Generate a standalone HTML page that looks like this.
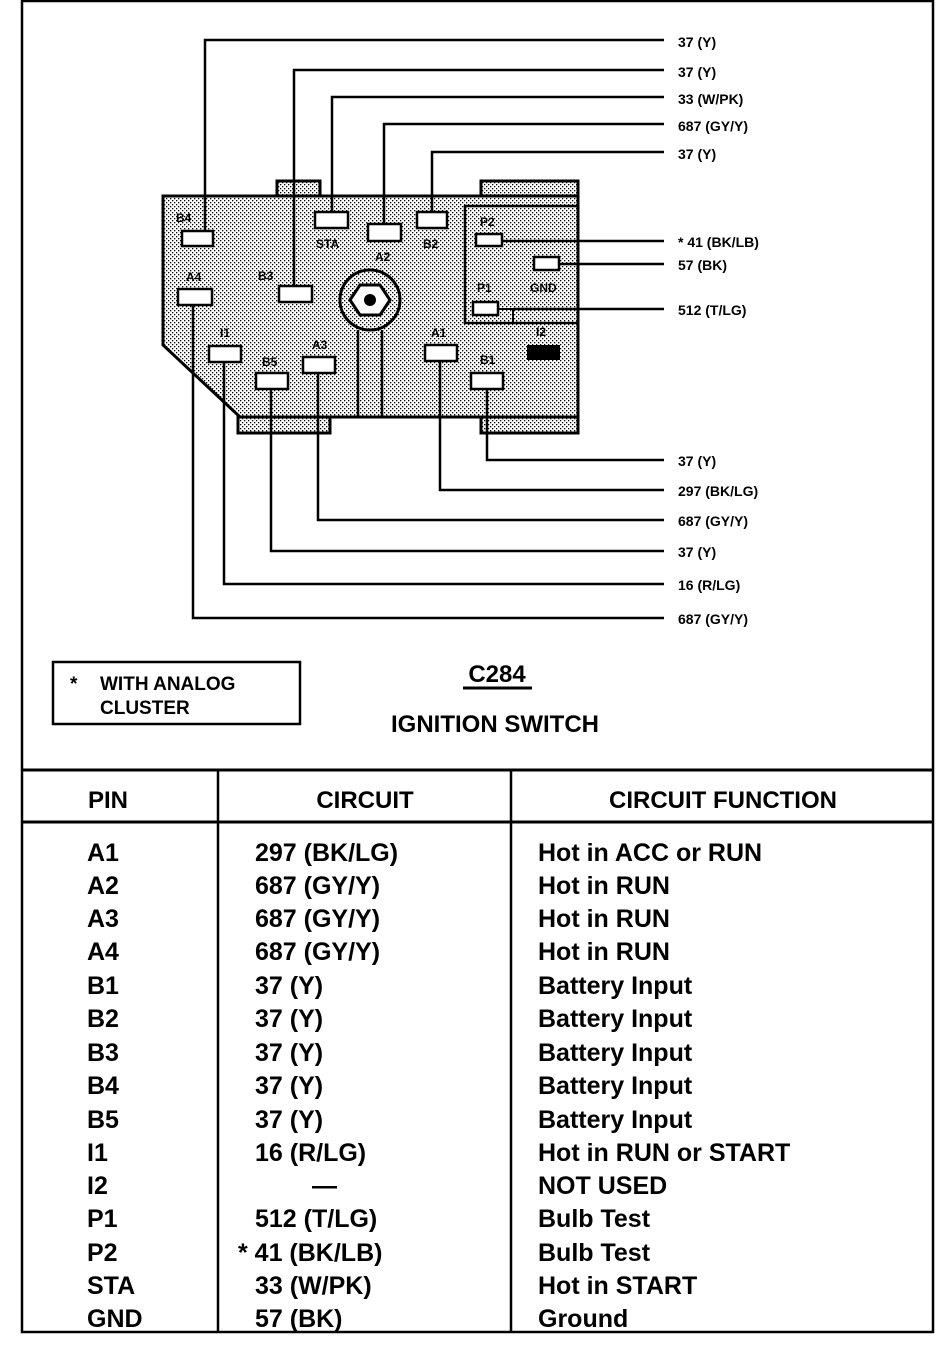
<!DOCTYPE html>
<html><head><meta charset="utf-8"><style>
html,body{margin:0;padding:0;background:#fff;}
svg{display:block;}
text{font-family:"Liberation Sans",sans-serif;fill:#000;}
.w{font-size:14px;font-weight:bold;}
.p{font-size:12px;font-weight:bold;}
.t{font-size:25px;font-weight:600;}
.h{font-size:24px;font-weight:bold;}
</style></head><body>
<svg width="944" height="1358" viewBox="0 0 944 1358" xmlns="http://www.w3.org/2000/svg">
<defs>
<pattern id="dot" width="4" height="4" patternUnits="userSpaceOnUse">
<rect width="4" height="4" fill="#fff"/><rect width="1.3" height="1.3" fill="#000"/><rect x="2" y="2" width="1.3" height="1.3" fill="#000"/>
</pattern>
</defs>
<rect x="0" y="0" width="944" height="1358" fill="#fff"/>
<rect x="22" y="1" width="911" height="1331" fill="none" stroke="#000" stroke-width="2.5"/>
<line x1="21" y1="770" x2="934" y2="770" stroke="#000" stroke-width="3"/>
<line x1="21" y1="822" x2="934" y2="822" stroke="#000" stroke-width="3"/>
<line x1="218" y1="770" x2="218" y2="1332" stroke="#000" stroke-width="2.5"/>
<line x1="511" y1="770" x2="511" y2="1332" stroke="#000" stroke-width="2.5"/>

<g stroke="#000" stroke-width="3" fill="url(#dot)">
<rect x="277" y="181" width="43" height="15"/>
<rect x="481" y="181" width="97" height="15"/>
<rect x="238" y="417" width="92" height="16"/>
<rect x="481" y="417" width="97" height="16"/>
<polygon points="163,196 578,196 578,417 240,417 163,345"/>
</g>
<rect x="465" y="206" width="113" height="117" fill="none" stroke="#000" stroke-width="2.5"/>
<polyline points="498,309 513,309 513,323" fill="none" stroke="#000" stroke-width="2"/>
<circle cx="370" cy="300" r="30" fill="url(#dot)" stroke="#000" stroke-width="3"/>
<polygon points="350,300 360,285 380,285 390,300 380,315 360,315" fill="#fff" stroke="#000" stroke-width="3"/>
<circle cx="370" cy="300" r="6" fill="#000"/>
<g fill="#fff" stroke="#000" stroke-width="2.5">
<rect x="182" y="231" width="31" height="15"/>
<rect x="315" y="212" width="33" height="16"/>
<rect x="368" y="224" width="33" height="17"/>
<rect x="417" y="212" width="30" height="16"/>
<rect x="476" y="234" width="26" height="12"/>
<rect x="534" y="257" width="25" height="13"/>
<rect x="473" y="302" width="25" height="13"/>
<rect x="178" y="289" width="34" height="16"/>
<rect x="279" y="286" width="33" height="16"/>
<rect x="209" y="346" width="32" height="16"/>
<rect x="256" y="373" width="32" height="16"/>
<rect x="303" y="357" width="32" height="16"/>
<rect x="425" y="345" width="32" height="16"/>
<rect x="471" y="373" width="32" height="16"/>
</g>
<rect x="527" y="345" width="33" height="15" fill="#000"/>
<g class="p">
<text x="176" y="222">B4</text>
<text x="316" y="248">STA</text>
<text x="375" y="261">A2</text>
<text x="423" y="248">B2</text>
<text x="480" y="226">P2</text>
<text x="530" y="292">GND</text>
<text x="477" y="292">P1</text>
<text x="186" y="281">A4</text>
<text x="258" y="280">B3</text>
<text x="220" y="337">I1</text>
<text x="262" y="366">B5</text>
<text x="312" y="349">A3</text>
<text x="431" y="337">A1</text>
<text x="480" y="364">B1</text>
<text x="536" y="336">I2</text>
</g>
<g fill="none" stroke="#000" stroke-width="2.5">
<polyline points="205,231 205,40 664,40"/>
<polyline points="294,286 294,70 664,70"/>
<polyline points="332,212 332,97 664,97"/>
<polyline points="384,224 384,124 664,124"/>
<polyline points="432,212 432,152 664,152"/>
<polyline points="502,241 664,241"/>
<polyline points="559,264 664,264"/>
<polyline points="513,309 664,309"/>
<polyline points="487,389 487,460 664,460"/>
<polyline points="440,361 440,490 664,490"/>
<polyline points="318,373 318,520 664,520"/>
<polyline points="271,389 271,551 664,551"/>
<polyline points="224,362 224,584 664,584"/>
<polyline points="193,305 193,618 664,618"/>
<line x1="358" y1="330" x2="358" y2="417"/>
<line x1="382" y1="330" x2="382" y2="417"/>
</g>
<g class="w">
<text x="678" y="47">37 (Y)</text>
<text x="678" y="77">37 (Y)</text>
<text x="678" y="104">33 (W/PK)</text>
<text x="678" y="131">687 (GY/Y)</text>
<text x="678" y="159">37 (Y)</text>
<text x="678" y="247">* 41 (BK/LB)</text>
<text x="678" y="270">57 (BK)</text>
<text x="678" y="315">512 (T/LG)</text>
<text x="678" y="466">37 (Y)</text>
<text x="678" y="496">297 (BK/LG)</text>
<text x="678" y="526">687 (GY/Y)</text>
<text x="678" y="557">37 (Y)</text>
<text x="678" y="590">16 (R/LG)</text>
<text x="678" y="624">687 (GY/Y)</text>
</g>
<rect x="53" y="662" width="247" height="62" fill="none" stroke="#000" stroke-width="2.5"/>
<text x="70" y="690" class="w" style="font-size:19px">*</text>
<text x="100" y="690" class="w" style="font-size:19px">WITH ANALOG</text>
<text x="100" y="714" class="w" style="font-size:19px">CLUSTER</text>
<text x="497" y="682" class="h" text-anchor="middle">C284</text>
<line x1="463" y1="688" x2="532" y2="688" stroke="#000" stroke-width="3"/>
<text x="495" y="732" class="h" text-anchor="middle">IGNITION SWITCH</text>
<text x="108" y="808" class="h" text-anchor="middle">PIN</text>
<text x="365" y="808" class="h" text-anchor="middle">CIRCUIT</text>
<text x="723" y="808" class="h" text-anchor="middle">CIRCUIT FUNCTION</text>
<g class="t">
<text x="87" y="861">A1</text><text x="255" y="861">297 (BK/LG)</text><text x="538" y="861">Hot in ACC or RUN</text>
<text x="87" y="894">A2</text><text x="255" y="894">687 (GY/Y)</text><text x="538" y="894">Hot in RUN</text>
<text x="87" y="927">A3</text><text x="255" y="927">687 (GY/Y)</text><text x="538" y="927">Hot in RUN</text>
<text x="87" y="960">A4</text><text x="255" y="960">687 (GY/Y)</text><text x="538" y="960">Hot in RUN</text>
<text x="87" y="994">B1</text><text x="255" y="994">37 (Y)</text><text x="538" y="994">Battery Input</text>
<text x="87" y="1027">B2</text><text x="255" y="1027">37 (Y)</text><text x="538" y="1027">Battery Input</text>
<text x="87" y="1061">B3</text><text x="255" y="1061">37 (Y)</text><text x="538" y="1061">Battery Input</text>
<text x="87" y="1094">B4</text><text x="255" y="1094">37 (Y)</text><text x="538" y="1094">Battery Input</text>
<text x="87" y="1128">B5</text><text x="255" y="1128">37 (Y)</text><text x="538" y="1128">Battery Input</text>
<text x="87" y="1161">I1</text><text x="255" y="1161">16 (R/LG)</text><text x="538" y="1161">Hot in RUN or START</text>
<text x="87" y="1194">I2</text><text x="312" y="1194">—</text><text x="538" y="1194">NOT USED</text>
<text x="87" y="1227">P1</text><text x="255" y="1227">512 (T/LG)</text><text x="538" y="1227">Bulb Test</text>
<text x="87" y="1261">P2</text><text x="238" y="1261">* 41 (BK/LB)</text><text x="538" y="1261">Bulb Test</text>
<text x="87" y="1294">STA</text><text x="255" y="1294">33 (W/PK)</text><text x="538" y="1294">Hot in START</text>
<text x="87" y="1327">GND</text><text x="255" y="1327">57 (BK)</text><text x="538" y="1327">Ground</text>
</g>
</svg>
</body></html>
